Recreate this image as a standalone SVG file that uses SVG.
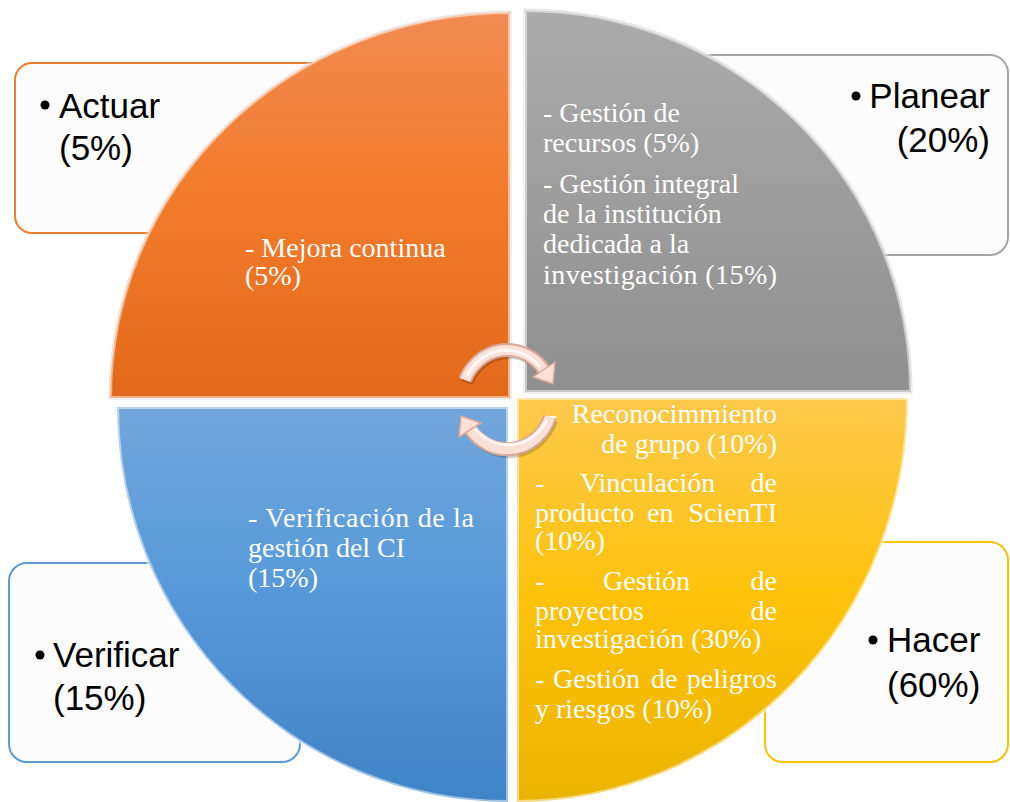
<svg xmlns="http://www.w3.org/2000/svg" width="1010" height="802" viewBox="0 0 1010 802">
<defs>
<linearGradient id="gOrange" x1="0" y1="0" x2="0" y2="1"><stop offset="0" stop-color="#F08B52"/><stop offset="0.45" stop-color="#F37C2C"/><stop offset="1" stop-color="#E3691A"/></linearGradient>
<linearGradient id="gGray" x1="0" y1="0" x2="0" y2="1"><stop offset="0" stop-color="#ABABAB"/><stop offset="1" stop-color="#8F8F8F"/></linearGradient>
<linearGradient id="gBlue" x1="0" y1="0" x2="0" y2="1"><stop offset="0" stop-color="#72A6DB"/><stop offset="0.4" stop-color="#5A9BDA"/><stop offset="1" stop-color="#3F84C7"/></linearGradient>
<linearGradient id="gYellow" x1="0" y1="0" x2="0" y2="1"><stop offset="0" stop-color="#FDC94C"/><stop offset="0.5" stop-color="#FEC20A"/><stop offset="1" stop-color="#EBB400"/></linearGradient>
<style>
.box{fill:#FCFCFC;stroke-width:2}
.lbl{font-family:"Liberation Sans","Open Sans",sans-serif;font-size:35px;fill:#000}
.in{font-family:"Liberation Serif","DejaVu Serif",serif;font-size:28px;fill:#FFFFFF}
.quad{stroke:rgba(255,255,255,0.5);stroke-width:4}
.edge{fill:none;stroke:rgba(0,0,0,0.12);stroke-width:1}
.dot{fill:#000}
.arrO{fill:none;stroke:#D8A797;stroke-width:14}
.arrI{fill:none;stroke:#FAE0D6;stroke-width:10}
.arrH{fill:none;stroke:#FFFFFF;stroke-width:3}
.head{fill:#FAE0D6;stroke:#D8A797;stroke-width:1.5}
</style>
</defs>
<rect width="1010" height="802" fill="#FFFFFF"/>

<g id="box-actuar"><rect class="box" x="15" y="63" width="320" height="170" rx="17" stroke="#ED7D31"/></g>
<g id="box-planear"><rect class="box" x="695" y="55" width="313" height="200" rx="18" stroke="#A5A5A5"/></g>
<g id="box-verificar"><rect class="box" x="9" y="563" width="291" height="199" rx="18" stroke="#5B9BD5"/></g>
<g id="box-hacer"><rect class="box" x="765" y="542" width="243" height="220" rx="18" stroke="#FFC000"/></g>

<g id="quad-actuar">
<path class="quad" d="M510 398 L110 398 A400 386 0 0 1 510 12 Z" fill="url(#gOrange)"/>
<path class="edge" d="M511 399 L109 399 A401 387 0 0 1 511 11 Z"/>
<text class="in" x="245" y="257">- Mejora continua</text>
<text class="in" x="245" y="285">(5%)</text>
</g>
<g id="quad-planear">
<path class="quad" d="M525 392 L525 10 A386 382 0 0 1 911 392 Z" fill="url(#gGray)"/>
<path class="edge" d="M524 393 L524 9 A387 383 0 0 1 912 393 Z"/>
<text class="in" x="543" y="122">- Gestión de</text>
<text class="in" x="543" y="152">recursos (5%)</text>
<text class="in" x="543" y="193">- Gestión integral</text>
<text class="in" x="543" y="223">de la institución</text>
<text class="in" x="543" y="253">dedicada a la</text>
<text class="in" x="543" y="284" textLength="234" lengthAdjust="spacing">investigación (15%)</text>
</g>
<g id="quad-verificar">
<path class="quad" d="M508 407 L508 802 A391 395 0 0 1 117 407 Z" fill="url(#gBlue)"/>
<text class="in" x="248" y="527" textLength="226" lengthAdjust="spacing">- Verificación de la</text>
<text class="in" x="248" y="557">gestión del CI</text>
<text class="in" x="248" y="587">(15%)</text>
</g>
<g id="quad-hacer">
<path class="quad" d="M517 398 L908 398 A391 404 0 0 1 517 802 Z" fill="url(#gYellow)"/>
<text class="in" x="548" y="423">-</text>
<text class="in" x="777" y="423" text-anchor="end">Reconocimmiento</text>
<text class="in" x="777" y="453" text-anchor="end">de grupo (10%)</text>
<text class="in" x="535" y="492">-</text>
<text class="in" x="580" y="492">Vinculación</text>
<text class="in" x="777" y="492" text-anchor="end">de</text>
<text class="in" x="535" y="522">producto</text>
<text class="in" x="647" y="522">en</text>
<text class="in" x="777" y="522" text-anchor="end">ScienTI</text>
<text class="in" x="535" y="550">(10%)</text>
<text class="in" x="535" y="590">-</text>
<text class="in" x="603" y="590">Gestión</text>
<text class="in" x="777" y="590" text-anchor="end">de</text>
<text class="in" x="535" y="620">proyectos</text>
<text class="in" x="777" y="620" text-anchor="end">de</text>
<text class="in" x="535" y="648">investigación (30%)</text>
<text class="in" x="535" y="688">-</text>
<text class="in" x="553" y="688">Gestión</text>
<text class="in" x="651" y="688">de</text>
<text class="in" x="777" y="688" text-anchor="end">peligros</text>
<text class="in" x="535" y="718">y riesgos (10%)</text>
</g>

<g id="label-actuar">
<circle class="dot" cx="45" cy="105" r="4.5"/>
<text class="lbl" x="59" y="118">Actuar</text>
<text class="lbl" x="59" y="160">(5%)</text>
</g>
<g id="label-planear">
<circle class="dot" cx="856" cy="96" r="4.5"/>
<text class="lbl" x="990" y="108" text-anchor="end">Planear</text>
<text class="lbl" x="990" y="152" text-anchor="end">(20%)</text>
</g>
<g id="label-verificar">
<circle class="dot" cx="40" cy="655" r="4.5"/>
<text class="lbl" x="53" y="667">Verificar</text>
<text class="lbl" x="53" y="710">(15%)</text>
</g>
<g id="label-hacer">
<circle class="dot" cx="873" cy="640" r="4.5"/>
<text class="lbl" x="887" y="652">Hacer</text>
<text class="lbl" x="887" y="697">(60%)</text>
</g>

<g id="connectors">
<g id="arrow-top">
<path d="M467 383 A46 50 0 0 1 546 373" fill="none" stroke="rgba(0,0,0,0.18)" stroke-width="12"/>
<path class="arrO" d="M465 380 A46 50 0 0 1 544 370"/>
<path class="arrI" d="M465 380 A46 50 0 0 1 544 370"/>
<path class="arrH" d="M467 376 A44 47 0 0 1 540 367" stroke-opacity="0.8"/>
<polygon class="head" points="555,362 533,377 553,384"/>
</g>
<g id="arrow-bottom">
<path d="M552 420 A46 50 0 0 1 472 432" fill="none" stroke="rgba(0,0,0,0.18)" stroke-width="12"/>
<path class="arrO" d="M550 417 A46 50 0 0 1 470 429"/>
<path class="arrI" d="M550 417 A46 50 0 0 1 470 429"/>
<path class="arrH" d="M547 420 A44 47 0 0 1 474 427" stroke-opacity="0.8"/>
<polygon class="head" points="481,423 459,437 461,416"/>
</g>
</g>
</svg>
